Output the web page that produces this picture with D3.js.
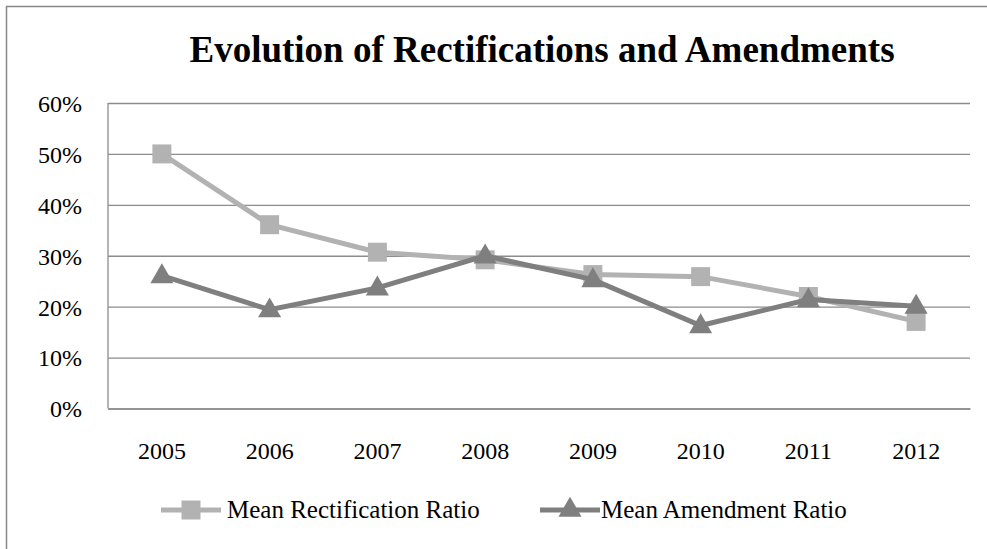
<!DOCTYPE html>
<html><head><meta charset="utf-8">
<script src="https://cdn.jsdelivr.net/npm/d3@7"></script>
<style>body{margin:0;background:#fff}</style>
</head><body>
<svg id="chart" width="987" height="549"></svg>
<script>
const years = ["2005","2006","2007","2008","2009","2010","2011","2012"];
const rectification = [0.500, 0.361, 0.307, 0.292, 0.263, 0.259, 0.220, 0.171];
const amendment = [0.261, 0.194, 0.237, 0.300, 0.253, 0.163, 0.214, 0.201];
const yTicks = [0, 0.1, 0.2, 0.3, 0.4, 0.5, 0.6];

const svg = d3.select("#chart");
const font = "'Liberation Serif','Times New Roman',serif";
svg.append("rect").attr("x",6.5).attr("y",6.5).attr("width",1000).attr("height",600)
  .attr("fill","#fff").attr("stroke","#888").attr("stroke-width",1.5);

const L=108, R=970, T=103, B=408.5;
const x = d3.scaleBand().domain(years).range([L,R]);
const y = d3.scaleLinear().domain([0,0.6]).range([B,T]);

svg.append("text").attr("x",542).attr("y",62).attr("text-anchor","middle")
  .attr("font-family",font).attr("font-weight","bold").attr("font-size",37)
  .attr("fill","#000").text("Evolution of Rectifications and Amendments");

const gy = svg.append("g").attr("transform",`translate(${L},0)`)
  .call(d3.axisLeft(y).tickValues(yTicks).tickFormat(d3.format(".0%")).tickSize(-(R-L)).tickPadding(26));
gy.select(".domain").remove();
gy.selectAll(".tick line").attr("stroke","#8c8c8c").attr("stroke-width",1.3);
gy.selectAll(".tick text").attr("font-family",font).attr("font-size",24).attr("fill","#000").attr("dy","0.35em");
svg.append("line").attr("x1",L).attr("x2",L).attr("y1",T).attr("y2",B)
  .attr("stroke","#8c8c8c").attr("stroke-width",1.3);

const gx = svg.append("g").attr("transform",`translate(0,${B})`)
  .call(d3.axisBottom(x).tickSize(0).tickPadding(0));
gx.select(".domain").attr("stroke","#8c8c8c").attr("stroke-width",1.3);
gx.selectAll(".tick text").attr("font-family",font).attr("font-size",24).attr("fill","#000")
  .attr("dy",null).attr("y",50);

const cx = d => x(d)+x.bandwidth()/2;
const line = d3.line().x((d,i)=>cx(years[i])).y(d=>y(d));
const c1="#b2b2b2", c2="#7f7f7f";
const sq = d3.symbol().type(d3.symbolSquare).size(360);
const tri = d3.symbol().type(d3.symbolTriangle).size(230);

svg.append("path").datum(rectification).attr("d",line).attr("fill","none").attr("stroke",c1).attr("stroke-width",5);
svg.selectAll(".sq").data(rectification).enter().append("path")
  .attr("d",sq).attr("fill",c1).attr("transform",(d,i)=>`translate(${cx(years[i])},${y(d)})`);
svg.append("path").datum(amendment).attr("d",line).attr("fill","none").attr("stroke",c2).attr("stroke-width",5);
svg.selectAll(".tr").data(amendment).enter().append("path")
  .attr("d",tri).attr("fill",c2).attr("transform",(d,i)=>`translate(${cx(years[i])},${y(d)+1})`);

// legend
const LY = 510;
const leg = [{name:"Mean Rectification Ratio",c:c1,s:sq,x:161,tx:227},{name:"Mean Amendment Ratio",c:c2,s:tri,x:540,tx:601}];
leg.forEach(l=>{
  const g=svg.append("g");
  g.append("line").attr("x1",l.x).attr("x2",l.x+60).attr("y1",LY).attr("y2",LY).attr("stroke",l.c).attr("stroke-width",5);
  g.append("path").attr("d",l.s).attr("fill",l.c).attr("transform",`translate(${l.x+30},${LY})`);
  g.append("text").attr("x",l.tx).attr("y",LY+8).attr("font-family",font).attr("font-size",25).attr("fill","#000").text(l.name);
});
</script>
</body></html>
